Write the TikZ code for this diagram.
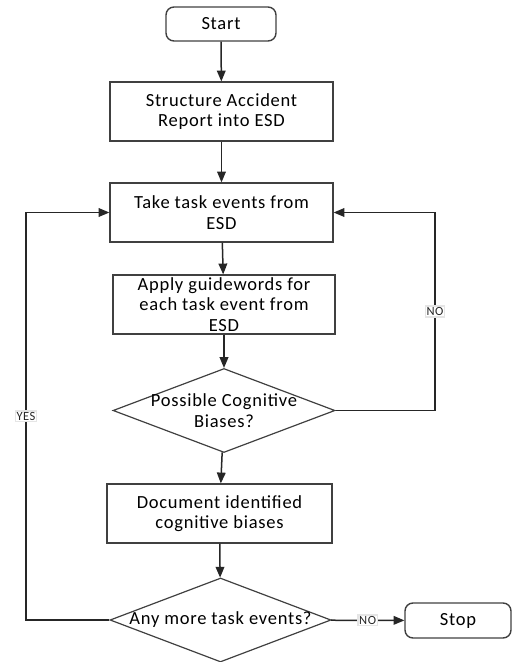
\documentclass[tikz,border=0pt]{standalone}
\usepackage{fontspec}
\setmainfont{Carlito}[LetterSpace=4]
\usepackage{tikz}
\usetikzlibrary{shapes,shapes.geometric,positioning}
\usetikzlibrary{arrows}

\tikzset{
  procbox/.style = {draw = black!75, line width = 1.4, minimum width = 223, minimum height = 59, align = center, inner sep = 2},
  termbox/.style = {draw = black!75, line width = 1.4, rounded corners = 8, minimum width = 110, minimum height = 34},
  decbox/.style = {draw = black!75, line width = 1.2, diamond, minimum width = 222, minimum height = 84, inner sep = 0},
  flow/.style = {->, >=triangle 45, line width = 1.5, black!85},
  tag/.style = {fill = white, draw = black!10, font = \fontsize{12.5}{13}\selectfont, inner sep = 1.2}
}

\begin{document}
\begin{tikzpicture}[x = 1pt, y = -1pt, font = \fontsize{18.5}{20.5}\selectfont]
\useasboundingbox (0,0) rectangle (512,662);
\node[termbox] (start) at (221,24) {Start};
\node[procbox] (struct) at (221.5,111.5) {Structure Accident\\Report into ESD};
\node[procbox] (take) at (221.5,212.5) {Take task events from\\ESD};
\node[procbox, minimum width = 222] (apply) at (224,304.5) {Apply guidewords for\\each task event from\\ESD};
\node[decbox, label = {[align = center]center:Possible Cognitive\\Biases?}] (poss) at (224,410.5) {};
\node[procbox, minimum width = 225] (doc) at (219.5,513.5) {Document identified\\cognitive biases};
\node[decbox, minimum width = 221, label = {center:Any more task events?}] (more) at (220.5,620) {};
\node[termbox, minimum width = 106, minimum height = 35] (stop) at (458,620.5) {Stop};
\coordinate (rturn) at (435,410.5);
\coordinate (lturn) at (26,620);
\draw[flow] (start) -- (struct);
\draw[flow] (struct) -- (take);
\draw[flow] (take) -- (apply);
\draw[flow] (apply) -- (poss);
\draw[flow] (poss) -- (doc);
\draw[flow] (doc) -- (more);
\draw[flow] (more) -- node[tag] {NO} (stop);
\draw[flow] (poss.east) -- (rturn) |- node[tag, pos = .25] {NO} (take.east);
\draw[flow] (more.west) -- (lturn) |- node[tag, pos = .25] {YES} (take.west);
\end{tikzpicture}
\end{document}
